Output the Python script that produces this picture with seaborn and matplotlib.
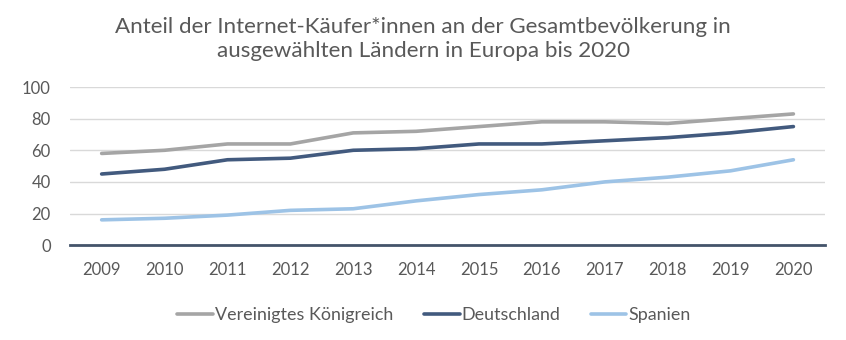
import matplotlib
matplotlib.use("Agg")
import matplotlib.pyplot as plt
import seaborn as sns
import pandas as pd

years = ["2009", "2010", "2011", "2012", "2013", "2014",
         "2015", "2016", "2017", "2018", "2019", "2020"]
uk = [58, 60, 64, 64, 71, 72, 75, 78, 78, 77, 80, 83]
de = [45, 48, 54, 55, 60, 61, 64, 64, 66, 68, 71, 75]
es = [16, 17, 19, 22, 23, 28, 32, 35, 40, 43, 47, 54]
series_names = ["Vereinigtes Königreich", "Deutschland", "Spanien"]
colors = ["#A5A5A5", "#425A7E", "#9DC3E6"]
title = "Anteil der Internet-Käufer*innen an der Gesamtbevölkerung in\nausgewählten Ländern in Europa bis 2020"
yticks = [0, 20, 40, 60, 80, 100]

df = pd.DataFrame({"Jahr": years * 3,
                   "Anteil": uk + de + es,
                   "Land": [n for n in series_names for _ in years]})

sns.set_theme(style="white")
plt.rcParams["font.family"] = ["Lato", "DejaVu Sans"]
text_color = "#595959"

fig = plt.figure(figsize=(8.46, 3.40), dpi=100)
ax = fig.add_axes([0.083, 0.279, 0.892, 0.465])

sns.lineplot(data=df, x="Jahr", y="Anteil", hue="Land", hue_order=series_names,
             palette=colors, linewidth=2.6, ax=ax, legend=True, sort=False)

ax.set_xlim(-0.5, len(years) - 0.5)
ax.set_ylim(0, 100)
ax.set_yticks(yticks)
ax.yaxis.grid(True, color="#D9D9D9", linewidth=1)
ax.set_axisbelow(True)
for s in ["top", "right", "left"]:
    ax.spines[s].set_visible(False)
ax.spines["bottom"].set_color("#44546A")
ax.spines["bottom"].set_linewidth(2)
ax.set_xlabel("")
ax.set_ylabel("")
ax.tick_params(axis="both", length=0, labelsize=12, labelcolor=text_color)
ax.tick_params(axis="x", pad=12)
ax.tick_params(axis="y", pad=14)

handles, labels = ax.get_legend_handles_labels()
ax.legend(handles, labels, loc="upper center", bbox_to_anchor=(0.482, -0.29),
          ncol=3, frameon=False, fontsize=12.9, labelcolor=text_color,
          handlelength=2.0, handletextpad=0.1, columnspacing=1.7)

fig.text(0.5, 0.95, title, ha="center", va="top", fontsize=16.1,
         color=text_color, linespacing=1.28)

fig.savefig("out.png", dpi=100, facecolor="white")
